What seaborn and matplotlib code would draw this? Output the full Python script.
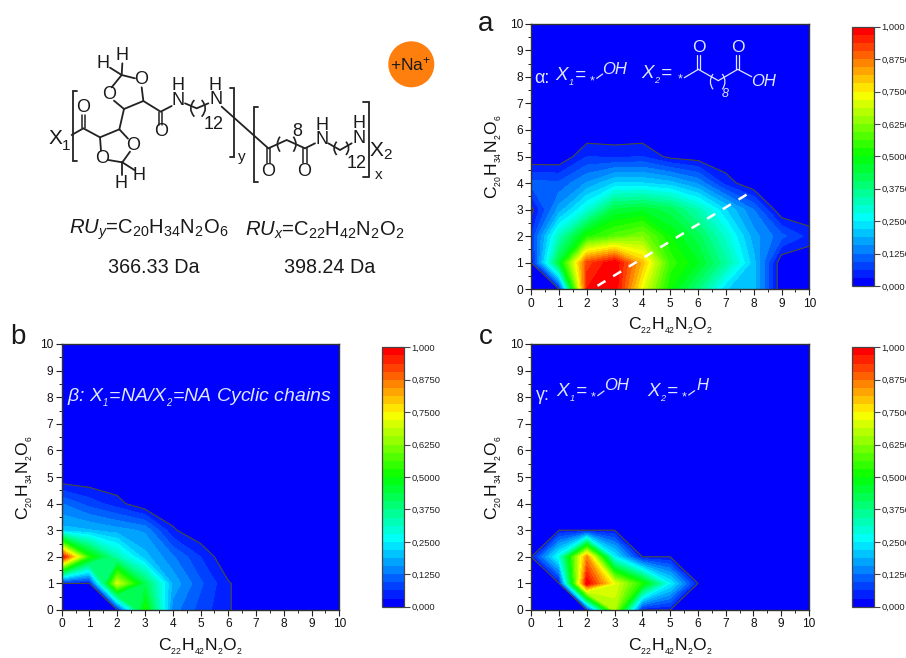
import numpy as np
import matplotlib
matplotlib.use("Agg")
import matplotlib.pyplot as plt
from matplotlib.path import Path
from matplotlib.patches import PathPatch, Circle
import seaborn as sns

sns.set_theme(style="ticks")
plt.rcParams.update({
    "font.family": ["Liberation Sans", "DejaVu Sans"],
    "mathtext.fontset": "custom",
    "mathtext.rm": "Liberation Sans",
    "mathtext.it": "Liberation Sans:italic",
    "mathtext.bf": "Liberation Sans:bold",
    "mathtext.default": "regular",
})

W, H = 906, 658
grid = np.arange(11)
L = 1 / 32
levels = np.linspace(0, 1, 33)

# rows are C20H34N2O6 = 0..10, columns are C22H42N2O2 = 0..10
zero = [0] * 11
alpha_z = np.array([
    [0, L, .97, 1.0, .72, .50, .38, .22, .20, 0, 0],
    [L, .45, .92, 1.0, .80, .55, .47, .35, .20, 0, 0],
    [.065, .32, .52, .58, .62, .50, .42, .30, .17, .104, .05],
    [.02, .17, .29, .44, .46, .42, .33, .22, .125, 0, 0],
    [.104, .10, .16, .22, .22, .20, .15, .05, 0, 0, 0],
    [0, 0, .0625, .055, .0625, .02, .01, 0, 0, 0, 0],
    zero, zero, zero, zero, zero], dtype=float)
beta_z = np.array([
    [0, 0, L, .52, .14, .08, .035, 0, 0, 0, 0],
    [L, L, .70, .42, .18, .10, .035, 0, 0, 0, 0],
    [1.0, .52, .33, .20, .13, .0625, 0, 0, 0, 0, 0],
    [.20, .19, .17, .15, .037, 0, 0, 0, 0, 0, 0],
    [.125, .08, .045, 0, 0, 0, 0, 0, 0, 0, 0],
    zero, zero, zero, zero, zero, zero], dtype=float)
gamma_z = np.array([
    [0, 0, L, .66, L, L, 0, 0, 0, 0, 0],
    [0, L, 1.0, .72, .52, .25, L, 0, 0, 0, 0],
    [L, .28, .85, .25, L, L, 0, 0, 0, 0, 0],
    [0, L, L, L, 0, 0, 0, 0, 0, 0, 0],
    zero, zero, zero, zero, zero, zero, zero], dtype=float)

cbar_ticks = [0, .125, .25, .375, .5, .625, .75, .875, 1]
cbar_labels = ["0,000", "0,1250", "0,2500", "0,3750", "0,5000", "0,6250", "0,7500", "0,8750", "1,000"]
xlabel = "C$_{_{22}}$H$_{_{42}}$N$_{_{2}}$O$_{_{2}}$"
ylabel = "C$_{_{20}}$H$_{_{34}}$N$_{_{2}}$O$_{_{6}}$"
dash_x = [2.38, 7.8]
dash_y = [0.13, 3.6]

palette = sns.blend_palette(["#0000ff", "#00ffff", "#00ff00", "#ffff00", "#ff0000"], n_colors=32)

fig = plt.figure(figsize=(W / 100, H / 100), dpi=100, facecolor="white")


def box(x0, y0, x1, y1):
    return [x0 / W, 1 - y1 / H, (x1 - x0) / W, (y1 - y0) / H]


def panel(z, pos, cpos):
    ax = fig.add_axes(box(*pos))
    ax.set_facecolor("#0000ff")
    cs = ax.contourf(grid, grid, z, levels=levels, colors=palette)
    ax.contour(grid, grid, z, levels=[L], colors="#4a4a3a", linewidths=0.8)
    ax.set_xlim(0, 10)
    ax.set_ylim(0, 10)
    ax.set_xticks(grid)
    ax.set_yticks(grid)
    ax.set_xticks(grid[:-1] + .5, minor=True)
    ax.set_yticks(grid[:-1] + .5, minor=True)
    ax.tick_params(which="major", length=4, width=0.8, labelsize=8.6, color="#222222", labelcolor="#111111", pad=2)
    ax.tick_params(which="minor", length=2.2, width=0.7, color="#222222")
    for s in ax.spines.values():
        s.set_linewidth(1.0)
        s.set_color("#333333")
    ax.set_xlabel(xlabel, fontsize=12.6, va="center", color="#111111")
    ax.set_ylabel(ylabel, fontsize=12.6, va="center", color="#111111")
    ax.xaxis.set_label_coords(.5, -.137)
    ax.yaxis.set_label_coords(-.135, .5)
    cax = fig.add_axes(box(*cpos))
    cb = fig.colorbar(cs, cax=cax, ticks=cbar_ticks)
    cb.ax.set_yticklabels(cbar_labels)
    cb.ax.minorticks_off()
    cb.ax.tick_params(length=4, width=0.8, labelsize=6.8, color="#444444", labelcolor="#222222", pad=1.5)
    cb.outline.set_linewidth(0.9)
    cb.outline.set_edgecolor("#444444")
    return ax


ax_a = panel(alpha_z, (531.3, 23.7, 809.3, 289.3), (851.5, 26.7, 873.7, 286))
ax_b = panel(beta_z, (61.7, 344, 339.3, 610), (382, 347.3, 403.7, 606.7))
ax_c = panel(gamma_z, (531.3, 344, 809, 610), (851.7, 347.3, 873.7, 606.7))
ax_a.plot(dash_x, dash_y, color="white", lw=1.8, dashes=(3.75, 3.6), solid_capstyle="butt")

# overlay in pixel coordinates for the drawn chemical scheme and labels
ov = fig.add_axes([0, 0, 1, 1], zorder=10)
ov.set_xlim(0, W)
ov.set_ylim(H, 0)
ov.axis("off")
ov.patch.set_alpha(0)

BK = "#222222"
WH = "#dfe6ff"


def seg(pts, ox=0, oy=0, c=BK, lw=1.3):
    p = np.array(pts, float) / 3 + [ox, oy]
    ov.plot(p[:, 0], p[:, 1], color=c, lw=lw, solid_capstyle="round", solid_joinstyle="miter")


def dbl(x, y0, y1, ox=0, oy=0, c=BK, lw=1.1, gap=5):
    seg([(x - gap, y0), (x - gap, y1)], ox, oy, c, lw)
    seg([(x + gap, y0), (x + gap, y1)], ox, oy, c, lw)


def par(x, y0, y1, dx, ox=0, oy=0, c=BK, lw=1.2):
    v = [(x / 3 + ox, y0 / 3 + oy), ((x + dx) / 3 + ox, (y0 + y1) / 6 + oy), (x / 3 + ox, y1 / 3 + oy)]
    ov.add_patch(PathPatch(Path(v, [Path.MOVETO, Path.CURVE3, Path.CURVE3]), fc="none", ec=c, lw=lw))


def t(x, y, s, size=11.5, c="#1a1a1a", ox=0, oy=0, **kw):
    kw.setdefault("ha", "center")
    kw.setdefault("va", "center")
    ov.text(x / 3 + ox, y / 3 + oy, s, fontsize=size, color=c, **kw)


# scheme: brackets
seg([(232, 272), (218, 272), (218, 483), (232, 483)])
seg([(690, 265), (703, 265), (703, 470), (690, 470)])
seg([(775, 320), (762, 320), (762, 546), (775, 546)])
seg([(1090, 305), (1107, 305), (1107, 530), (1090, 530)])
# scheme: bonds
seg([(215, 405), (250, 385), (300, 412), (358, 388), (372, 327), (430, 303), (482, 335), (515, 318)])
seg([(300, 412), (303, 452)])
seg([(358, 388), (384, 416)])
seg([(390, 455), (367, 487), (325, 480)])
seg([(367, 487), (367, 525)])
seg([(367, 487), (403, 510)])
seg([(372, 327), (342, 302)])
seg([(335, 262), (365, 225), (405, 235)])
seg([(425, 262), (430, 303)])
seg([(365, 225), (367, 190)])
seg([(365, 225), (330, 203)])
dbl(250, 385, 345)
dbl(482, 335, 376)
seg([(555, 310), (590, 325), (625, 310)])
par(583, 300, 350, -22)
par(605, 300, 350, 22)
seg([(665, 320), (805, 445), (860, 420), (915, 445), (945, 430)])
dbl(805, 445, 490)
dbl(915, 445, 490)
par(840, 410, 455, -16)
par(880, 410, 455, 16)
seg([(985, 430), (1020, 450), (1055, 430)])
par(1010, 425, 465, -16)
par(1038, 425, 465, 16)
# scheme: atoms
for x, y, s in [(248, 322, "O"), (307, 476, "O"), (400, 435, "O"), (328, 283, "O"), (422, 240, "O"),
                (482, 396, "O"), (535, 302, "N"), (535, 258, "H"), (647, 300, "N"), (645, 258, "H"),
                (805, 515, "O"), (913, 515, "O"), (965, 420, "N"), (965, 378, "H"), (1078, 415, "N"),
                (1078, 372, "H"), (367, 165, "H"), (310, 190, "H"), (362, 550, "H"), (418, 525, "H")]:
    t(x, y, s, size=13)
t(640, 373, "12", size=13)
t(892, 395, "8", size=13)
t(1070, 490, "12", size=13)
t(725, 470, "y", size=11)
t(1135, 525, "x", size=11)
t(165, 415, "X", size=15)
t(197, 437, "1", size=11)
t(1130, 452, "X", size=15)
t(1163, 465, "2", size=11)
ov.add_patch(Circle((411.3, 64.3), 23, fc="#ff7f0e", ec="none"))
t(1231, 192, "+Na$^{+}$", size=12.5)
# formulas
t(208, 690, "$\\mathit{RU_y}$=C$_{20}$H$_{34}$N$_{2}$O$_{6}$", size=14.6, ha="left")
t(735, 690, "$\\mathit{RU_x}$=C$_{22}$H$_{42}$N$_{2}$O$_{2}$", size=14.6, ha="left")
t(462, 803, "366.33 Da", size=14.2)
t(989, 803, "398.24 Da", size=14.2)
# panel letters
t(18 * 3, 337 * 3, "b", size=20)
t(486 * 3, 24 * 3, "a", size=20)
t(486 * 3, 337 * 3, "c", size=20)

# annotation panel a
oa = 480
t(163, 235, "α:", size=13, c=WH, ox=oa, ha="left")
t(225, 232, "X$_{_{1}}$=", size=13.5, c=WH, ox=oa, ha="left", style="italic")
t(336, 243, "*", size=9, c=WH, ox=oa)
seg([(350, 235), (368, 222)], oa, 0, WH, .9)
t(405, 208, "OH", size=12, c=WH, ox=oa, style="italic")
t(483, 226, "X$_{_{2}}$=", size=13.5, c=WH, ox=oa, ha="left", style="italic")
t(600, 237, "*", size=9, c=WH, ox=oa)
seg([(613, 233), (655, 208), (715, 242), (773, 208), (815, 230)], oa, 0, WH, .9)
dbl(655, 208, 165, oa, 0, WH, .9, gap=4)
dbl(773, 208, 165, oa, 0, WH, .9, gap=4)
t(657, 142, "O", size=12.5, c=WH, ox=oa)
t(775, 142, "O", size=12.5, c=WH, ox=oa)
t(852, 243, "OH", size=12, c=WH, ox=oa, style="italic")
par(699, 222, 268, -16, oa, 0, WH, .9)
par(727, 222, 268, 16, oa, 0, WH, .9)
t(735, 282, "8", size=9, c=WH, ox=oa, style="italic")

# annotation panel b
t(200, 235, "β: X$_{_{1}}$=NA/X$_{_{2}}$=NA Cyclic chains", size=14, c=WH, oy=320, ha="left", style="italic")

# annotation panel c
oc, oy = 470, 320
t(197, 225, "γ:", size=13, c=WH, ox=oc, oy=oy, ha="left")
t(258, 220, "X$_{_{1}}$=", size=13.5, c=WH, ox=oc, oy=oy, ha="left", style="italic")
t(370, 233, "*", size=9, c=WH, ox=oc, oy=oy)
seg([(383, 227), (402, 213)], oc, oy, WH, .9)
t(440, 195, "OH", size=12, c=WH, ox=oc, oy=oy, style="italic")
t(532, 220, "X$_{_{2}}$=", size=13.5, c=WH, ox=oc, oy=oy, ha="left", style="italic")
t(643, 233, "*", size=9, c=WH, ox=oc, oy=oy)
seg([(656, 225), (674, 212)], oc, oy, WH, .9)
t(696, 195, "H", size=12, c=WH, ox=oc, oy=oy, style="italic")

fig.savefig("out.png", dpi=100)
